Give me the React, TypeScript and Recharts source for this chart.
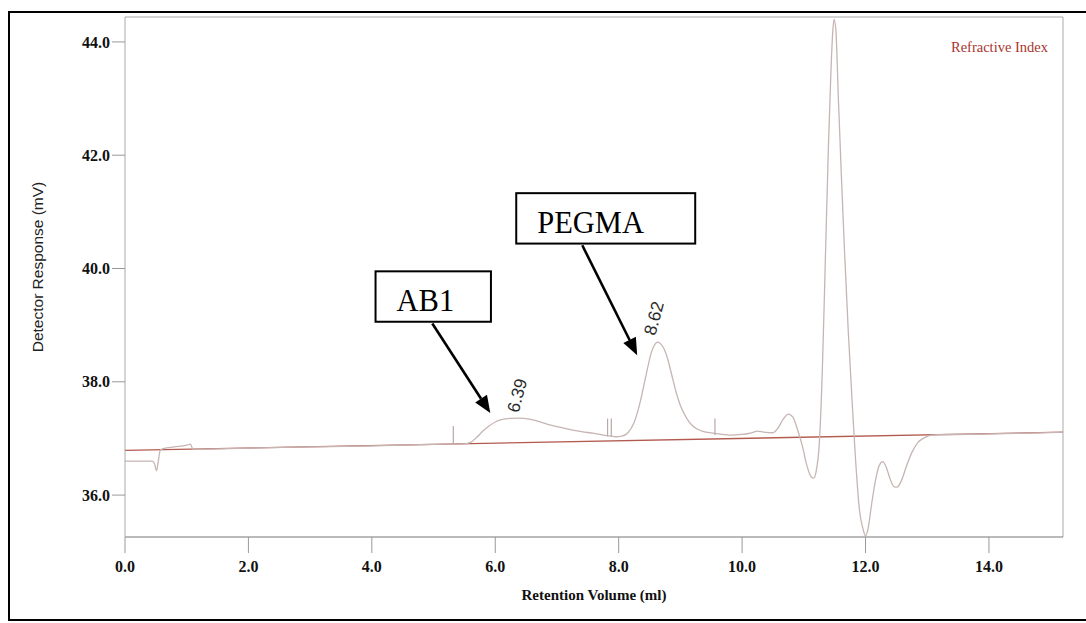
import React from 'react';
import {
  LineChart,
  Line,
  XAxis,
  YAxis,
  ReferenceLine,
  ReferenceArea,
  ReferenceDot,
  Legend,
} from 'recharts';

// GPC trace
const retentionVolume = [
  0.0, 0.44, 0.48, 0.51, 0.54, 0.57, 0.62, 0.8, 1.0, 1.06, 1.1, 2.0, 3.0, 4.0, 5.0, 5.5, 5.6,
  5.7, 5.8, 5.9, 6.0, 6.1, 6.25, 6.39, 6.55, 6.7, 6.85, 7.0, 7.2, 7.4, 7.6, 7.8, 7.95, 8.05,
  8.15, 8.25, 8.35, 8.45, 8.53, 8.58, 8.63, 8.68, 8.74, 8.8, 8.86, 8.93, 9.0, 9.1, 9.2, 9.35,
  9.55, 9.8, 10.0, 10.15, 10.25, 10.35, 10.5, 10.58, 10.66, 10.75, 10.82, 10.9, 10.98, 11.05,
  11.12, 11.16, 11.2, 11.25, 11.3, 11.35, 11.4, 11.44, 11.47, 11.49, 11.52, 11.56, 11.61, 11.66,
  11.72, 11.78, 11.84, 11.9, 11.96, 12.0, 12.04, 12.1, 12.16, 12.22, 12.28, 12.34, 12.4, 12.46,
  12.51, 12.58, 12.66, 12.75, 12.85, 12.95, 13.07, 14.0, 15.2,
];
const detectorResponse = [
  36.6, 36.6, 36.55, 36.43, 36.6, 36.79, 36.82, 36.85, 36.88, 36.9, 36.81, 36.83, 36.85, 36.87,
  36.895, 36.905, 36.93, 37.02, 37.13, 37.22, 37.29, 37.33, 37.355, 37.36, 37.34, 37.3, 37.25,
  37.21, 37.16, 37.12, 37.09, 37.05, 37.03, 37.04, 37.1, 37.28, 37.65, 38.15, 38.52, 38.65, 38.7,
  38.67, 38.57, 38.38, 38.12, 37.82, 37.58, 37.36, 37.22, 37.13, 37.09, 37.06, 37.07, 37.1,
  37.13, 37.11, 37.1, 37.18, 37.33, 37.43, 37.38, 37.15, 36.85, 36.52, 36.32, 36.3, 36.42, 36.9,
  38.2, 40.2, 42.2, 43.5, 44.2, 44.4, 44.2, 43.0, 41.6, 40.3, 38.9, 37.7, 36.6, 35.75, 35.4,
  35.28, 35.4, 35.85, 36.25, 36.52, 36.59, 36.48, 36.28, 36.15, 36.14, 36.25, 36.5, 36.75,
  36.93, 37.01, 37.06, 37.08, 37.11,
];

const baselineVolume = [0, 15.2];
const baselineResponse = [36.79, 37.11];

// integration markers on the trace
const markerVolume = [5.32, 7.82, 7.88, 9.56];
const markerLow = [36.92, 37.04, 37.04, 37.06];
const markerHigh = [37.22, 37.35, 37.35, 37.35];

const xTicks = [0, 2, 4, 6, 8, 10, 12, 14];
const yTicks = [36, 38, 40, 42, 44];
const xDomain = [0, 15.2];
const yDomain = [35.26, 44.44];

const peakLabels = ['6.39', '8.62'];
const peakLabelVolume = [6.355, 8.57];
const peakLabelResponse = [37.76, 39.12];

const boxLabels = ['AB1', 'PEGMA'];
const boxVolume = [[4.06, 5.93], [6.34, 9.24]];
const boxResponse = [[39.06, 39.95], [40.44, 41.33]];
const arrowFrom = [[4.98, 39.03], [7.41, 40.41]];
const arrowTo = [[5.92, 37.45], [8.3, 38.47]];

const signalData = retentionVolume.map((v, i) => ({ v, r: detectorResponse[i] }));
const baselineData = baselineVolume.map((v, i) => ({ v, r: baselineResponse[i] }));

const serif = '"Liberation Serif", "Times New Roman", serif';
const sans = '"Liberation Sans", Arial, sans-serif';

const Arrow = (p: any) => {
  const { x1, y1, x2, y2 } = p;
  const a = Math.atan2(y2 - y1, x2 - x1);
  const len = 17;
  const half = 7;
  const bx = x2 - len * Math.cos(a);
  const by = y2 - len * Math.sin(a);
  const px = -Math.sin(a) * half;
  const py = Math.cos(a) * half;
  return (
    <g>
      <line x1={x1} y1={y1} x2={bx} y2={by} stroke="#000" strokeWidth={2.6} />
      <polygon points={`${x2},${y2} ${bx + px},${by + py} ${bx - px},${by - py}`} fill="#000" />
    </g>
  );
};

const makeBox = (text: string) => (p: any) => (
  <g>
    <rect x={p.x} y={p.y} width={p.width} height={p.height} fill="#fff" stroke="#000" strokeWidth={2} />
    <text x={p.x + 21} y={p.y + p.height - 10.5} fontFamily={serif} fontSize={30.5} fill="#000">
      {text}
    </text>
  </g>
);

const makePeakLabel = (text: string) => (p: any) => (
  <text
    x={p.cx}
    y={p.cy}
    transform={`rotate(-75 ${p.cx} ${p.cy})`}
    textAnchor="middle"
    dominantBaseline="central"
    fontFamily={sans}
    fontSize={17.5}
    fill="#2a2a2a"
  >
    {text}
  </text>
);

const YTitle = (p: any) => {
  const vb = p.viewBox;
  const x = vb.x + 29;
  const y = vb.y + vb.height / 2 - 10;
  return (
    <text
      x={x}
      y={y}
      transform={`rotate(-90 ${x} ${y})`}
      textAnchor="middle"
      dominantBaseline="central"
      fontFamily={sans}
      fontSize={15.5}
      fill="#222"
    >
      Detector Response (mV)
    </text>
  );
};

const LegendText = () => (
  <div style={{ fontFamily: serif, fontSize: 14.5, color: '#a8352e', lineHeight: '18px', textAlign: 'right' }}>
    Refractive Index
  </div>
);

export default function App() {
  const tickStyle = { fontFamily: serif, fontSize: 16, fontWeight: 'bold' as const, fill: '#111' };
  return (
    <div style={{ position: 'absolute', left: 0, top: 0, width: 1086, height: 623, overflow: 'hidden', background: '#fff' }}>
      <div
        style={{
          position: 'absolute',
          left: 8,
          top: 11,
          width: 1100,
          height: 610,
          border: '2.5px solid #000',
          boxSizing: 'border-box',
        }}
      />
      <div style={{ position: 'absolute', left: 0, top: 0 }}>
        <LineChart width={1086} height={623} margin={{ top: 17, right: 23, bottom: 16, left: 8 }}>
          <XAxis
            dataKey="v"
            type="number"
            domain={xDomain}
            ticks={xTicks}
            allowDataOverflow
            tickFormatter={(t: number) => t.toFixed(1)}
            tick={tickStyle}
            fontSize={16}
            fontFamily={serif}
            tickSize={16}
            tickMargin={8}
            height={70}
            axisLine={{ stroke: '#777', strokeWidth: 1.2 }}
            tickLine={{ stroke: '#999' }}
            label={{ value: 'Retention Volume (ml)', position: 'insideBottom', offset: 7, fontSize: 15, style: { fontFamily: serif, fontSize: 15, fontWeight: 'bold', fill: '#111' } }}
          />
          <YAxis
            type="number"
            domain={yDomain}
            ticks={yTicks}
            allowDataOverflow
            tickFormatter={(t: number) => t.toFixed(1)}
            tick={tickStyle}
            fontSize={16}
            fontFamily={serif}
            tickSize={13}
            width={117}
            axisLine={{ stroke: '#aaa' }}
            tickLine={{ stroke: '#999' }}
            label={YTitle}
          />
          <ReferenceLine y={yDomain[1]} stroke="#aaa" />
          <ReferenceLine x={xDomain[1]} stroke="#aaa" />
          <Legend
            layout="horizontal"
            verticalAlign="middle"
            width={160}
            wrapperStyle={{ top: 38, right: 38, left: 'auto' }}
            content={LegendText}
          />
          <Line
            data={baselineData}
            dataKey="r"
            name="Baseline"
            type="linear"
            stroke="#b35a4f"
            strokeWidth={1.3}
            dot={false}
            isAnimationActive={false}
          />
          <Line
            data={signalData}
            dataKey="r"
            name="Refractive Index"
            type="monotone"
            stroke="#c7b5b3"
            strokeWidth={1.3}
            dot={false}
            isAnimationActive={false}
          />
          {markerVolume.map((v, i) => (
            <ReferenceLine
              key={`m${i}`}
              segment={[
                { x: v, y: markerLow[i] },
                { x: v, y: markerHigh[i] },
              ]}
              stroke="#b8a8a6"
              strokeWidth={1.2}
            />
          ))}
          {peakLabels.map((t, i) => (
            <ReferenceDot
              key={`p${i}`}
              x={peakLabelVolume[i]}
              y={peakLabelResponse[i]}
              r={0}
              shape={makePeakLabel(t)}
            />
          ))}
          {boxLabels.map((t, i) => (
            <ReferenceLine
              key={`a${i}`}
              segment={[
                { x: arrowFrom[i][0], y: arrowFrom[i][1] },
                { x: arrowTo[i][0], y: arrowTo[i][1] },
              ]}
              shape={Arrow}
            />
          ))}
          {boxLabels.map((t, i) => (
            <ReferenceArea
              key={`b${i}`}
              x1={boxVolume[i][0]}
              x2={boxVolume[i][1]}
              y1={boxResponse[i][0]}
              y2={boxResponse[i][1]}
              shape={makeBox(t)}
            />
          ))}
        </LineChart>
      </div>
    </div>
  );
}
